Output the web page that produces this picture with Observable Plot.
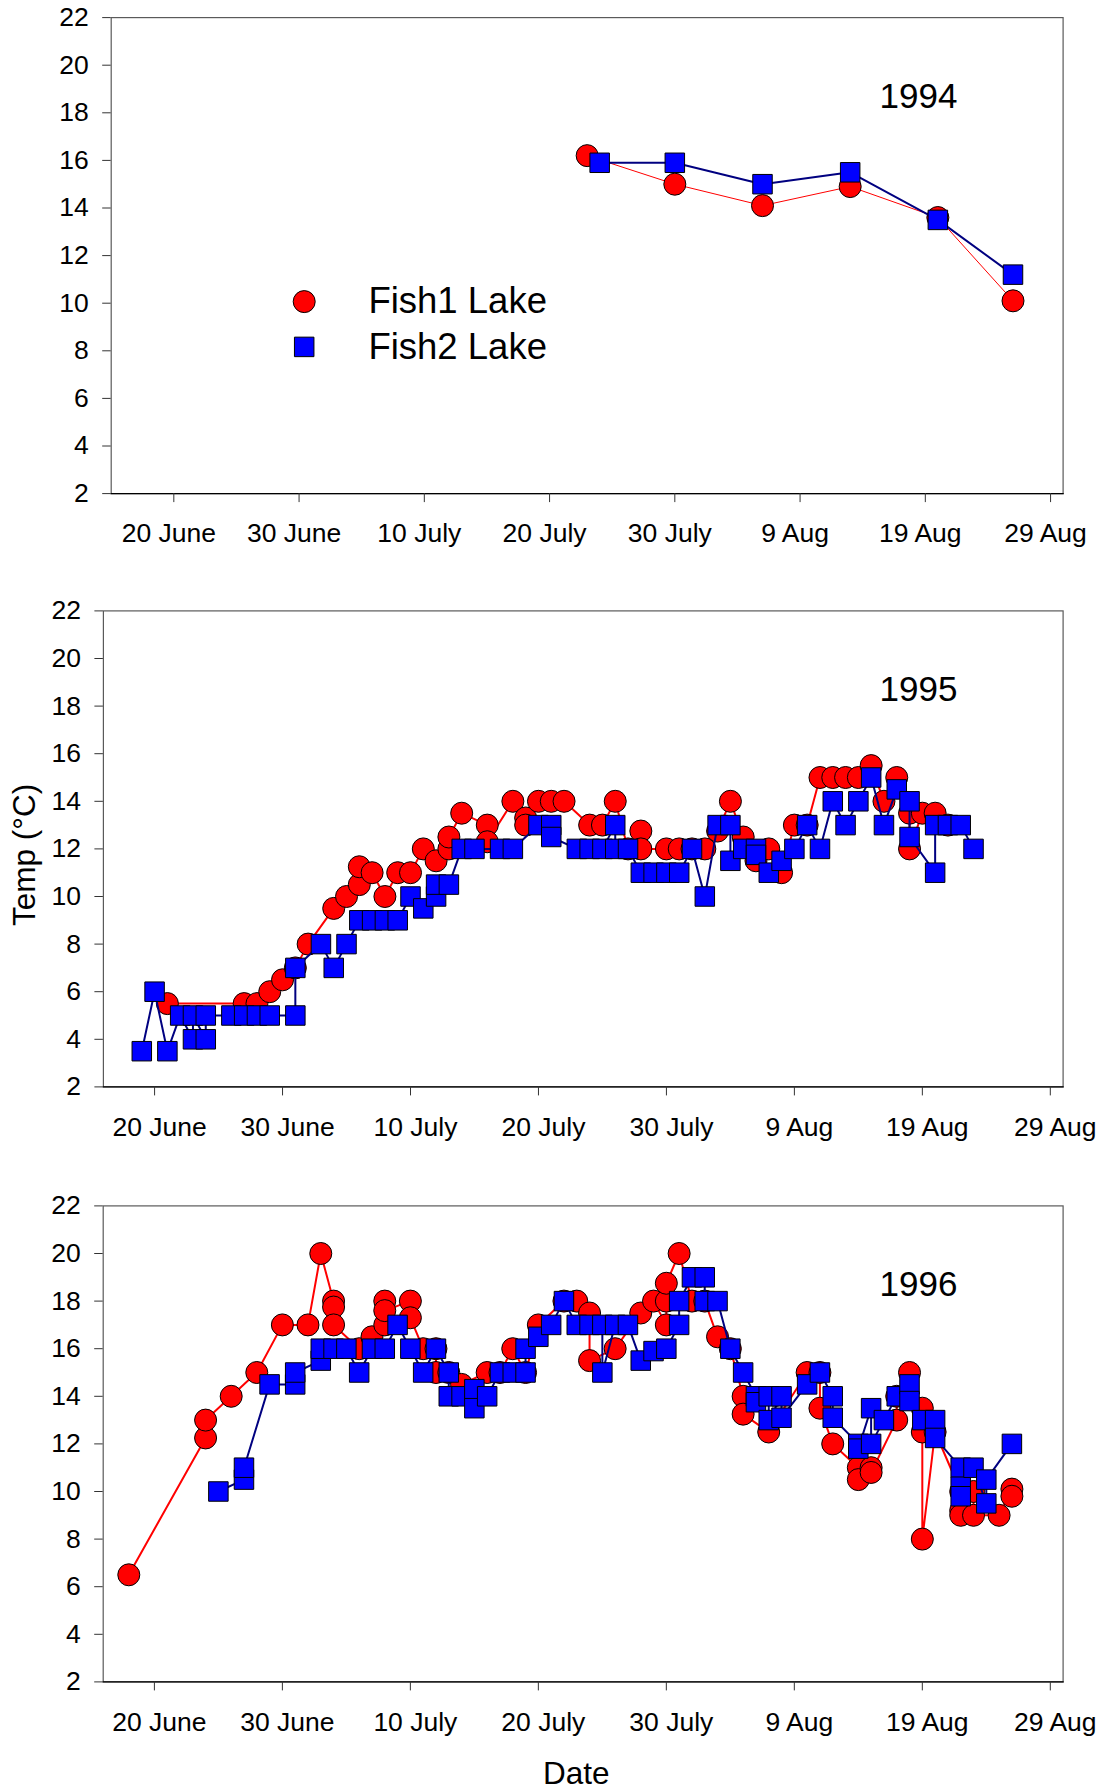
<!DOCTYPE html>
<html>
<head>
<meta charset="utf-8">
<script src="https://cdn.jsdelivr.net/npm/d3@7"></script>
<script src="https://cdn.jsdelivr.net/npm/@observablehq/plot@0.6"></script>
<style>
  html, body { margin: 0; padding: 0; background: #ffffff; }
  #wrap { position: relative; width: 1102px; height: 1790px; background: #ffffff; }
  #wrap svg { position: absolute; left: 0; overflow: visible; }
</style>
</head>
<body>
<div id="wrap"></div>
<script>
// ---------- data ----------
const seriesNames = ["Fish1 Lake", "Fish2 Lake"];
const yTicks = [2, 4, 6, 8, 10, 12, 14, 16, 18, 20, 22];
const tickDays = ["06-20", "06-30", "07-10", "07-20", "07-30", "08-09", "08-19", "08-29"];
const tickLabels = ["20 June", "30 June", "10 July", "20 July", "30 July", "9 Aug", "19 Aug", "29 Aug"];

// 1994
const fish1_1994_dates = ["07-23","07-30","08-06","08-13","08-20","08-26"];
const fish1_1994_temps = [16.2, 15.0, 14.1, 14.9, 13.6, 10.1];
const fish2_1994_dates = ["07-24","07-30","08-06","08-13","08-20","08-26"];
const fish2_1994_temps = [15.9, 15.9, 15.0, 15.5, 13.5, 11.2];

// 1995
const fish1_1995_dates = ["06-21","06-27","06-28","06-29","06-30","07-01","07-02","07-04","07-05","07-06","07-06","07-07","07-08","07-09","07-10","07-11","07-12","07-13","07-13","07-14","07-16","07-16","07-18","07-19","07-19","07-20","07-21","07-22","07-24","07-25","07-26","07-27","07-28","07-28","07-30","07-31","08-01","08-02","08-03","08-04","08-05","08-06","08-07","08-08","08-09","08-10","08-11","08-12","08-13","08-14","08-15","08-16","08-17","08-18","08-18","08-19","08-20","08-21"];
const fish1_1995_temps = [5.5,5.5,5.5,6.0,6.5,7.0,8.0,9.5,10.0,10.5,11.25,11.0,10.0,11.0,11.0,12.0,11.5,12.0,12.5,13.5,13.0,12.3,14.0,13.3,13.0,14.0,14.0,14.0,13.0,13.0,14.0,12.0,12.75,12.0,12.0,12.0,12.0,12.0,12.75,14.0,12.5,11.5,12.0,11.0,13.0,13.0,15.0,15.0,15.0,15.0,15.5,14.0,15.0,13.5,12.0,13.5,13.5,13.0];
const fish2_1995_dates = ["06-19","06-20","06-21","06-22","06-23","06-23","06-24","06-24","06-26","06-27","06-28","06-29","07-01","07-01","07-03","07-04","07-05","07-06","07-07","07-08","07-09","07-10","07-11","07-12","07-12","07-13","07-14","07-15","07-17","07-18","07-20","07-21","07-21","07-23","07-24","07-25","07-26","07-26","07-27","07-28","07-29","07-30","07-31","08-01","08-02","08-03","08-04","08-04","08-05","08-06","08-06","08-07","08-08","08-09","08-10","08-11","08-12","08-13","08-14","08-15","08-16","08-17","08-18","08-18","08-20","08-20","08-21","08-22","08-23"];
const fish2_1995_temps = [3.5,6.0,3.5,5.0,4.0,5.0,4.0,5.0,5.0,5.0,5.0,5.0,5.0,7.0,8.0,7.0,8.0,9.0,9.0,9.0,9.0,10.0,9.5,10.0,10.5,10.5,12.0,12.0,12.0,12.0,13.0,13.0,12.5,12.0,12.0,12.0,13.0,12.0,12.0,11.0,11.0,11.0,11.0,12.0,10.0,13.0,13.0,11.5,12.0,12.0,11.75,11.0,11.5,12.0,13.0,12.0,14.0,13.0,14.0,15.0,13.0,14.5,14.0,12.5,11.0,13.0,13.0,13.0,12.0];

// 1996
const fish1_1996_dates = ["06-18","06-24","06-24","06-26","06-28","06-30","07-02","07-03","07-04","07-04","07-04","07-06","07-07","07-08","07-08","07-08","07-10","07-10","07-11","07-12","07-12","07-13","07-14","07-16","07-17","07-18","07-19","07-20","07-22","07-23","07-24","07-24","07-26","07-28","07-29","07-30","07-30","07-30","07-31","08-01","08-02","08-03","08-04","08-05","08-05","08-07","08-10","08-11","08-11","08-12","08-14","08-14","08-15","08-15","08-17","08-17","08-18","08-19","08-19","08-19","08-20","08-22","08-22","08-22","08-23","08-23","08-25","08-26","08-26"];
const fish1_1996_temps = [6.5,12.25,13.0,14.0,15.0,17.0,17.0,20.0,18.0,17.75,17.0,16.0,16.5,17.0,18.0,17.6,18.0,17.3,16.0,16.0,15.0,15.0,14.5,15.0,15.0,16.0,15.0,17.0,18.0,18.0,17.5,15.5,16.0,17.5,18.0,17.0,18.0,18.75,20.0,18.0,18.0,16.5,16.0,14.0,13.25,12.5,15.0,15.0,13.5,12.0,11.0,10.5,11.0,10.8,13.0,14.0,15.0,13.5,12.5,8.0,12.5,10.0,9.2,9.0,10.0,9.0,9.0,10.1,9.8];
const fish2_1996_dates = ["06-25","06-27","06-27","06-29","07-01","07-01","07-03","07-03","07-04","07-05","07-06","07-07","07-08","07-09","07-10","07-11","07-12","07-13","07-13","07-14","07-15","07-15","07-16","07-17","07-18","07-19","07-19","07-20","07-21","07-22","07-23","07-24","07-25","07-25","07-26","07-27","07-28","07-29","07-30","07-31","07-31","08-01","08-02","08-02","08-03","08-04","08-05","08-06","08-06","08-07","08-07","08-08","08-08","08-10","08-11","08-12","08-12","08-14","08-14","08-15","08-15","08-16","08-17","08-18","08-18","08-19","08-20","08-20","08-22","08-22","08-22","08-23","08-24","08-24","08-26"];
const fish2_1996_temps = [10.0,10.5,11.0,14.5,14.5,15.0,15.5,16.0,16.0,16.0,15.0,16.0,16.0,17.0,16.0,15.0,16.0,15.0,14.0,14.0,14.3,13.5,14.0,15.0,15.0,15.0,16.0,16.5,17.0,18.0,17.0,17.0,17.0,15.0,17.0,17.0,15.5,15.9,16.0,17.0,18.0,19.0,19.0,18.0,18.0,16.0,15.0,14.0,13.75,14.0,13.0,14.0,13.1,14.5,15.0,14.0,13.1,12.0,11.8,13.5,12.0,13.0,14.0,14.5,13.8,13.0,13.0,12.25,11.0,10.2,9.8,11.0,9.5,10.5,12.0];

// ---------- helpers ----------
const FONT = "Arial, 'Liberation Sans', Helvetica, sans-serif";
const RED = "#ff0000", BLUE = "#0000ff", NAVY = "#000080";

function toDate(year, md) {
  const [m, d] = md.split("-").map(Number);
  return new Date(Date.UTC(year, m - 1, d));
}
function rows(year, dates, temps) {
  return dates.map((md, i) => ({date: toDate(year, md), temp: temps[i]}));
}

// layout of the three stacked panels (pixels)
const layout = [
  {year: 1994, f1: [fish1_1994_dates, fish1_1994_temps], f2: [fish2_1994_dates, fish2_1994_temps],
   start: "06-15", end: "08-30", top: 0, height: 590, mt: 17.1, ml: 110.7, redWidth: 1, labelDx: -5, legend: true},
  {year: 1995, f1: [fish1_1995_dates, fish1_1995_temps], f2: [fish2_1995_dates, fish2_1995_temps],
   start: "06-16", end: "08-30", top: 590, height: 600, mt: 20.4, ml: 102.9, redWidth: 2, labelDx: 5, ylabel: true},
  {year: 1996, f1: [fish1_1996_dates, fish1_1996_temps], f2: [fish2_1996_dates, fish2_1996_temps],
   start: "06-16", end: "08-30", top: 1190, height: 600, mt: 15.4, ml: 102.7, redWidth: 2, labelDx: 5, xlabel: true}
];
const plotH = 476;
const marginRight = 39.4;
const tickFont = 26.5;

const wrap = document.getElementById("wrap");

for (const p of layout) {
  const f1 = rows(p.year, p.f1[0], p.f1[1]);
  const f2 = rows(p.year, p.f2[0], p.f2[1]);
  const tickDates = tickDays.map(md => toDate(p.year, md));
  const labelOf = new Map(tickDates.map((d, i) => [+d, tickLabels[i]]));

  const marks = [
    Plot.frame({stroke: "#5a5a5a", strokeWidth: 1.2}),
    Plot.frame({anchor: "bottom", stroke: "#000000", strokeWidth: 1.2}),
    Plot.axisY({ticks: yTicks, tickSize: 8.5, tickPadding: 14, fontSize: tickFont, label: null, stroke: "#333"}),
    Plot.axisX({ticks: tickDates, tickSize: 9, tickFormat: () => "", label: null, stroke: "#333"}),
    Plot.axisX({ticks: tickDates, tickFormat: d => labelOf.get(+d), tickSize: 0, tickPadding: 30,
                dx: p.labelDx, fontSize: tickFont, label: null}),
    Plot.line(f1, {x: "date", y: "temp", stroke: RED, strokeWidth: p.redWidth}),
    Plot.dot(f1, {x: "date", y: "temp", r: 11, fill: RED, stroke: "#000", strokeWidth: 1}),
    Plot.line(f2, {x: "date", y: "temp", stroke: NAVY, strokeWidth: 2}),
    Plot.dot(f2, {x: "date", y: "temp", symbol: "square", r: 11, fill: BLUE, stroke: "#000", strokeWidth: 1}),
    Plot.text([String(p.year)], {frameAnchor: "top-right", dx: -144.6, dy: 79,
               textAnchor: "middle", lineAnchor: "middle", fontSize: 35})
  ];

  if (p.legend) {
    marks.push(
      Plot.dot([0], {frameAnchor: "top-left", dx: 193, dy: 284, r: 11, fill: RED, stroke: "#000", strokeWidth: 1}),
      Plot.dot([0], {frameAnchor: "top-left", dx: 193, dy: 329.3, r: 11, symbol: "square", fill: BLUE, stroke: "#000", strokeWidth: 1}),
      Plot.text([seriesNames[0]], {frameAnchor: "top-left", dx: 257.2, dy: 284, textAnchor: "start", lineAnchor: "middle", fontSize: 36.5}),
      Plot.text([seriesNames[1]], {frameAnchor: "top-left", dx: 257.2, dy: 329.3, textAnchor: "start", lineAnchor: "middle", fontSize: 36.5})
    );
  }
  if (p.ylabel) {
    marks.push(Plot.text(["Temp (°C)"], {frameAnchor: "left", dx: -78, dy: 6, rotate: -90,
      textAnchor: "middle", lineAnchor: "middle", fontSize: 31.5}));
  }
  if (p.xlabel) {
    marks.push(Plot.text(["Date"], {frameAnchor: "bottom", dx: -7, dy: 92,
      textAnchor: "middle", lineAnchor: "middle", fontSize: 31.5}));
  }

  const chart = Plot.plot({
    width: 1102,
    height: p.height,
    marginTop: p.mt,
    marginLeft: p.ml,
    marginRight: marginRight,
    marginBottom: p.height - p.mt - plotH,
    x: {type: "utc", domain: [toDate(p.year, p.start), toDate(p.year, p.end)]},
    y: {domain: [2, 22]},
    style: {fontFamily: FONT, fontSize: "25px", color: "#000", background: "transparent", overflow: "visible"},
    marks
  });
  chart.style.position = "absolute";
  chart.style.top = p.top + "px";
  chart.style.left = "0px";
  wrap.appendChild(chart);
}
</script>
</body>
</html>
